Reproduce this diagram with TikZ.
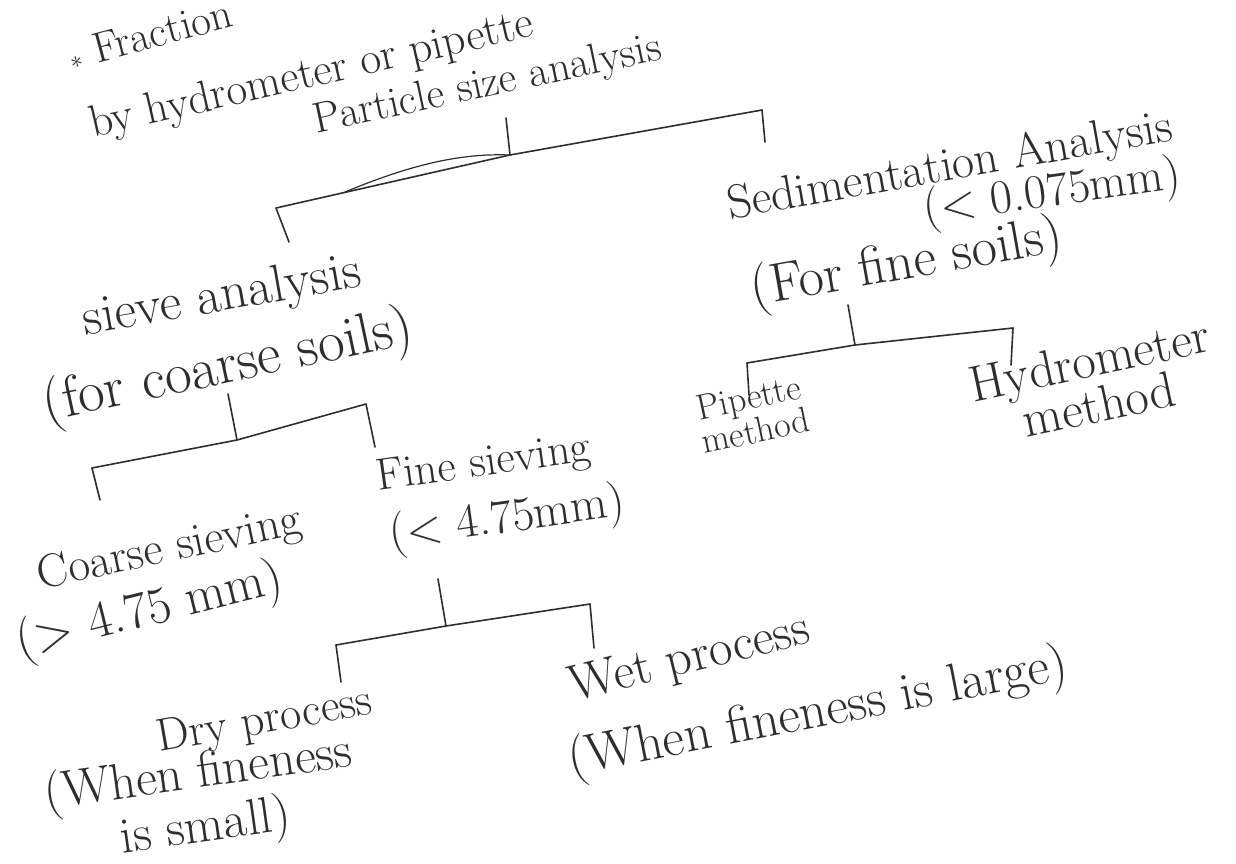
\documentclass[tikz,border=0pt]{standalone}
\usepackage{fontspec}
\definecolor{ink}{HTML}{2E2E2E}
\newcommand{\hwfs}[2]{\fontsize{#1}{#2}\selectfont}
\tikzset{
  hw/.style={text=ink, inner sep=1pt, align=center},
  ln/.style={draw=ink, line width=1.6pt, line cap=round, line join=round},
}
\begin{document}
\begin{tikzpicture}[x=1pt,y=-1pt]
\useasboundingbox (0,0) rectangle (1236,864);
\fill[white] (0,0) rectangle (1236,864);

% texts
\node[hw, font=\hwfs{43}{46}, rotate=15] (frac) at (150,34) {$\ast$ Fraction};
\node[hw, font=\hwfs{45}{48}, rotate=13] (byhyd) at (312,76) {by hydrometer or pipette};
\node[hw, font=\hwfs{43}{46}, rotate=12] (psa) at (488,86) {Particle size analysis};
\node[hw, font=\hwfs{48}{52}, rotate=10] (sed) at (950,168) {Sedimentation Analysis};
\node[hw, font=\hwfs{48}{52}, rotate=8] (sedsz) at (1052,194) {(< 0.075mm)};
\node[hw, font=\hwfs{55}{58}, rotate=10] (sedfs) at (907,265) {(For fine soils)};
\node[hw, font=\hwfs{53}{56}, rotate=10] (sieve) at (222,298) {sieve analysis};
\node[hw, font=\hwfs{58}{60}, rotate=12] (sievecs) at (228,368) {(for coarse soils)};
\node[hw, font=\hwfs{36}{34}, rotate=12] (pip) at (752,414) {Pipette\\method};
\node[hw, font=\hwfs{51}{46}, rotate=12] (hyd) at (1094,382) {Hydrometer\\method};
\node[hw, font=\hwfs{47}{50}, rotate=12] (coarse) at (170,550) {Coarse sieving};
\node[hw, font=\hwfs{52}{54}, rotate=14] (coarsesz) at (150,612) {(> 4.75 mm)};
\node[hw, font=\hwfs{45}{48}, rotate=8] (fine) at (484,465) {Fine sieving};
\node[hw, font=\hwfs{48}{50}, rotate=8] (finesz) at (507,520) {(< 4.75mm)};
\node[hw, font=\hwfs{46}{48}, rotate=10] (dry) at (265,722) {Dry process};
\node[hw, font=\hwfs{51}{54}, rotate=8] (drynote) at (202,802) {(When fineness\\is small)};
\node[hw, font=\hwfs{51}{54}, rotate=14] (wet) at (690,660) {Wet process};
\node[hw, font=\hwfs{53}{56}, rotate=11] (wetnote) at (818,714) {(When fineness is large)};

% bracket 1: particle size analysis
\coordinate (t1) at (506,118);
\coordinate (j1) at (510,155);
\coordinate (l1) at (276,208);
\coordinate (l1b) at (289,242);
\coordinate (r1) at (762,110);
\coordinate (r1b) at (765,142);
\coordinate (c1) at (345,192);
\draw[ln] (t1) -- (j1);
\draw[ln] (l1) -- (j1) -- (r1);
\draw[ln] (l1) -- (l1b);
\draw[ln] (r1) -- (r1b);
\draw[ln, line width=1.2pt] (c1) .. controls (410,165) and (460,153) .. (j1);

% bracket 2: sieve analysis
\coordinate (t2) at (228,394);
\coordinate (j2) at (237,440);
\coordinate (l2) at (92,468);
\coordinate (l2b) at (100,500);
\coordinate (r2) at (366,404);
\coordinate (r2b) at (375,447);
\draw[ln] (t2) -- (j2);
\draw[ln] (l2) -- (j2) -- (r2);
\draw[ln] (l2) -- (l2b);
\draw[ln] (r2) -- (r2b);

% bracket 3: sedimentation analysis
\coordinate (t3) at (848,305);
\coordinate (j3) at (855,345);
\coordinate (l3) at (747,363);
\coordinate (l3b) at (749,395);
\coordinate (r3) at (1013,328);
\coordinate (r3b) at (1011,365);
\draw[ln] (t3) -- (j3);
\draw[ln] (l3) -- (j3) -- (r3);
\draw[ln] (l3) -- (l3b);
\draw[ln] (r3) -- (r3b);

% bracket 4: fine sieving
\coordinate (t4) at (438,579);
\coordinate (j4) at (446,626);
\coordinate (l4) at (336,645);
\coordinate (l4b) at (341,682);
\coordinate (r4) at (590,604);
\coordinate (r4b) at (594,648);
\draw[ln] (t4) -- (j4);
\draw[ln] (l4) -- (j4) -- (r4);
\draw[ln] (l4) -- (l4b);
\draw[ln] (r4) -- (r4b);
\end{tikzpicture}
\end{document}
